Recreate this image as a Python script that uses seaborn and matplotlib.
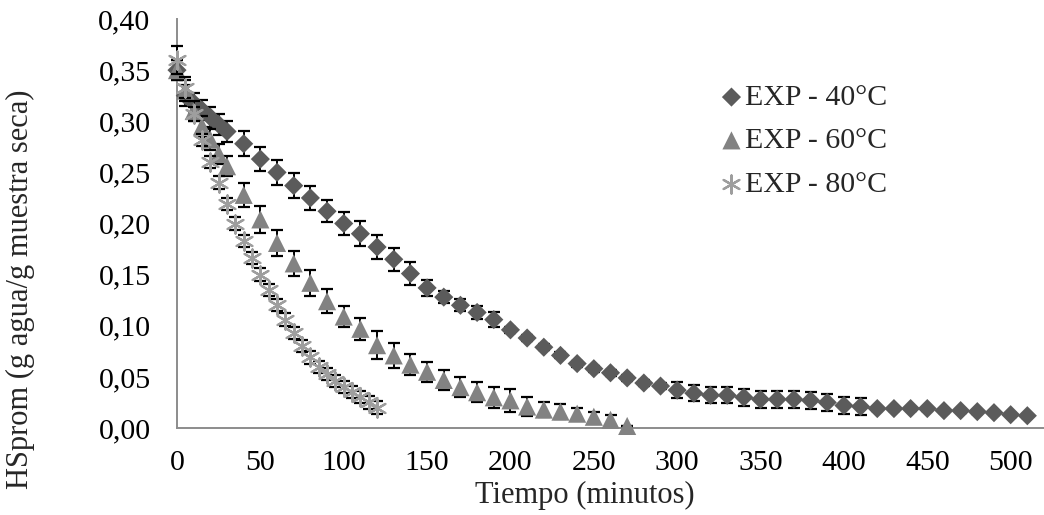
import numpy as np
import pandas as pd
import seaborn as sns
import matplotlib
matplotlib.use("Agg")
import matplotlib.pyplot as plt
from matplotlib.ticker import FuncFormatter, MultipleLocator

# ---------------- data ----------------
t40 = [0, 5, 10, 15, 20, 25, 30] + list(range(40, 520, 10))
hs40 = [0.350, 0.325, 0.318, 0.311, 0.304, 0.297, 0.290,
        0.278, 0.263, 0.250, 0.237, 0.225, 0.212, 0.200, 0.190, 0.177, 0.165,
        0.151, 0.137, 0.128, 0.120, 0.113, 0.106, 0.096, 0.088, 0.079, 0.071,
        0.063, 0.058, 0.054, 0.049, 0.044, 0.041, 0.037, 0.034, 0.032, 0.032,
        0.030, 0.028, 0.028, 0.028, 0.027, 0.025, 0.022, 0.021, 0.019, 0.019,
        0.019, 0.019, 0.017, 0.017, 0.016, 0.015, 0.013, 0.012]
err40 = [0.010, 0.010, 0.010, 0.010, 0.010, 0.010, 0.010,
         0.012, 0.012, 0.012, 0.012, 0.012, 0.011, 0.011, 0.012, 0.012, 0.011,
         0.011, 0.008, 0.006, 0.006, 0.006, 0.007, 0.003, 0.003, 0.003, 0.003,
         0.003, 0.003, 0.003, 0.003, 0.003, 0.003, 0.008, 0.008, 0.008, 0.008,
         0.008, 0.008, 0.008, 0.008, 0.008, 0.008, 0.008, 0.008, 0.002, 0.002,
         0.002, 0.002, 0.002, 0.002, 0.002, 0.002, 0.002, 0.002]

t60 = [0, 5, 10, 15, 20, 25, 30] + list(range(40, 280, 10))
hs60 = [0.350, 0.330, 0.310, 0.295, 0.282, 0.268, 0.256,
        0.228, 0.204, 0.181, 0.161, 0.142, 0.124, 0.109, 0.097, 0.081, 0.071,
        0.062, 0.055, 0.047, 0.040, 0.035, 0.030, 0.027, 0.021, 0.018, 0.016,
        0.014, 0.011, 0.008, 0.002]
err60 = [0.010, 0.010, 0.010, 0.010, 0.010, 0.010, 0.010,
         0.012, 0.013, 0.013, 0.012, 0.013, 0.012, 0.010, 0.011, 0.014, 0.012,
         0.010, 0.010, 0.010, 0.010, 0.010, 0.010, 0.011, 0.009, 0.007, 0.007,
         0.006, 0.005, 0.005, 0.000]

t80 = list(range(0, 125, 5))
hs80 = [0.360, 0.333, 0.307, 0.282, 0.260, 0.240, 0.219, 0.200, 0.183, 0.166,
        0.150, 0.135, 0.120, 0.106, 0.093, 0.080, 0.069, 0.060, 0.053, 0.046,
        0.040, 0.035, 0.030, 0.025, 0.020]
err80 = [0.014, 0.010, 0.007, 0.006, 0.006, 0.006, 0.006, 0.006, 0.006, 0.006,
         0.006, 0.006, 0.006, 0.006, 0.006, 0.006, 0.006, 0.006, 0.006, 0.006,
         0.006, 0.006, 0.006, 0.006, 0.006]

labels = ["EXP - 40°C", "EXP - 60°C", "EXP - 80°C"]
x_ticks = list(range(0, 550, 50))
y_ticks = [0.00, 0.05, 0.10, 0.15, 0.20, 0.25, 0.30, 0.35, 0.40]

# ---------------- style ----------------
sns.set_theme(style="white")
plt.rcParams['font.family'] = ['Liberation Serif', 'DejaVu Serif']
FS = 21.5
FS_LAB = 22

W, H = 1044, 515
fig = plt.figure(figsize=(W / 100, H / 100), dpi=100)
ax = fig.add_axes([177 / W, 1 - 428 / H, 1 - 177 / W, (428 - 19) / H])

series = [
    dict(t=t40, v=hs40, e=err40, marker="D", s=95, color="#5b5b5b", lab=labels[0]),
    dict(t=t60, v=hs60, e=err60, marker="^", s=170, color="#828282", lab=labels[1]),
    dict(t=t80, v=hs80, e=err80, marker=(6, 2, 0), s=170, color="#9e9e9e", lab=labels[2]),
]

z = 2
for sr in series:
    ax.errorbar(sr["t"], sr["v"], yerr=sr["e"], fmt="none", ecolor="black",
                elinewidth=1.4, capsize=4.5, capthick=1.6, zorder=z, clip_on=False)
    df = pd.DataFrame({"t": sr["t"], "v": sr["v"]})
    if sr["marker"] == (6, 2, 0):
        sns.scatterplot(data=df, x="t", y="v", marker=sr["marker"], s=sr["s"],
                        color=sr["color"], linewidth=1.6, ax=ax, zorder=z + 1,
                        clip_on=False, label=sr["lab"])
    else:
        sns.scatterplot(data=df, x="t", y="v", marker=sr["marker"], s=sr["s"],
                        color=sr["color"], edgecolor="none", linewidth=0, ax=ax,
                        zorder=z + 1, clip_on=False, label=sr["lab"])
    z += 2

ax.set_xlim(0, 520)
ax.set_ylim(0, 0.40)
ax.set_xticks(x_ticks)
ax.set_yticks(y_ticks)
ax.yaxis.set_major_formatter(FuncFormatter(lambda v, p: f"{v:.2f}".replace(".", ",")))
ax.xaxis.set_major_formatter(FuncFormatter(lambda v, p: f"{int(v)}"))
ax.tick_params(axis="both", length=0, labelsize=FS, colors="black")
ax.tick_params(axis="y", pad=19)
ax.tick_params(axis="x", pad=16)

for side in ["top", "right"]:
    ax.spines[side].set_visible(False)
for side in ["left", "bottom"]:
    ax.spines[side].set_color("#8c8c8c")
    ax.spines[side].set_linewidth(1.4)
ax.set_xlabel("")
ax.set_ylabel("")

fig.text(585 / W, 1 - 495 / H, "Tiempo (minutos)", ha="center", va="center", fontsize=FS_LAB)
fig.text(20 / W, 1 - 289 / H, "HSprom (g agua/g muestra seca)", ha="center", va="center",
         rotation=90, fontsize=FS_LAB)

leg = ax.legend(loc="upper left", bbox_to_anchor=(721 / W, 1 - 84 / H),
                bbox_transform=fig.transFigure, frameon=False, fontsize=FS,
                handlelength=0.7, handletextpad=0.12, borderpad=0, borderaxespad=0,
                labelspacing=0.55, markerscale=1.0)

fig.savefig("out.png", dpi=100)
